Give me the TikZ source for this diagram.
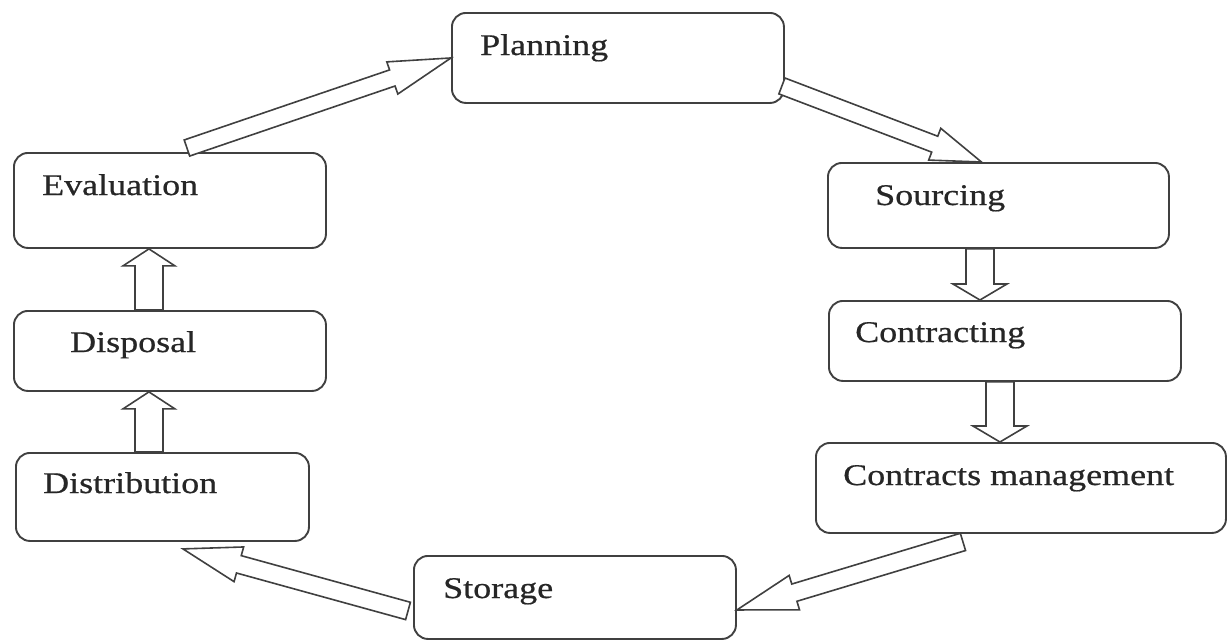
\documentclass[tikz,border=0pt]{standalone}
\usepackage{fontspec}
\setmainfont{Liberation Serif}[FakeStretch=1.2,FakeBold=0.6]
\usetikzlibrary{calc}
\definecolor{ln}{HTML}{404040}
\tikzset{
  box/.style={draw=ln, line width=1.9pt, rounded corners=14pt, anchor=north west, inner sep=0pt},
  lbl/.style={anchor=base west, inner sep=0pt, font=\fontsize{30}{36}\selectfont, text=black!85},
  blockarrow/.style={draw=ln, line width=1.6pt, fill=white, line join=miter}
}
% #1 shaft half width, #2 head half width, #3 head length, #4 from, #5 to
\newcommand\blockarr[5]{%
  \coordinate (nk) at ($(#5)!#3!(#4)$);
  \draw[blockarrow] ($(#4)!#1!90:(#5)$) -- ($(nk)!#1!90:(#5)$) -- ($(nk)!#2!90:(#5)$) -- (#5)
    -- ($(nk)!#2!-90:(#5)$) -- ($(nk)!#1!-90:(#5)$) -- ($(#4)!#1!-90:(#5)$) -- cycle;}
\begin{document}
\begin{tikzpicture}[x=1pt,y=-1pt]
\useasboundingbox (0,0) rectangle (1227,640);
% boxes
\node[box, minimum width=332pt, minimum height=90pt] (plan) at (451,12) {};
\node[box, minimum width=341pt, minimum height=85pt] (sour) at (827,162) {};
\node[box, minimum width=352pt, minimum height=80pt] (contr) at (828,300) {};
\node[box, minimum width=410pt, minimum height=90pt] (cm) at (815,442) {};
\node[box, minimum width=322pt, minimum height=83pt] (stor) at (413,555) {};
\node[box, minimum width=293pt, minimum height=88pt] (dist) at (15,452) {};
\node[box, minimum width=312pt, minimum height=80pt] (disp) at (13,310) {};
\node[box, minimum width=312pt, minimum height=95pt] (eval) at (13,152) {};
% labels
\node[lbl] (tplan) at (480,55) {Planning};
\node[lbl] (tsour) at (875,205) {Sourcing};
\node[lbl] (tcontr) at (855,342) {Contracting};
\node[lbl] (tcm) at (843,485) {Contracts management};
\node[lbl] (tstor) at (443,598) {Storage};
\node[lbl] (tdist) at (43,493) {Distribution};
\node[lbl] (tdisp) at (70,352) {Disposal};
\node[lbl] (teval) at (42,195) {Evaluation};
% connector end points
\coordinate (a1s) at ($(eval.north)+(17,-4)$);
\coordinate (a1e) at (plan.west);
\coordinate (a2s) at ($(plan.east)+(-3,28)$);
\coordinate (a2e) at ($(sour.north)+(-17,0)$);
\coordinate (a3s) at ($(sour.south)+(-18.5,0)$);
\coordinate (a3e) at (a3s |- contr.north);
\coordinate (a4s) at ($(contr.south)+(-5,0)$);
\coordinate (a4e) at (a4s |- cm.north);
\coordinate (a5s) at ($(cm.south)+(-58,8)$);
\coordinate (a5e) at ($(stor.east)+(0,12.5)$);
\coordinate (a6s) at ($(stor.west)+(-5,13.5)$);
\coordinate (a6e) at ($(dist.south)+(20.5,7)$);
\coordinate (a7s) at ($(dist.north)+(-13.5,0)$);
\coordinate (a7e) at (a7s |- disp.south);
\coordinate (a8s) at (a7s |- disp.north);
\coordinate (a8e) at (a8s |- eval.south);
% block arrows
\blockarr{8.5pt}{17pt}{62pt}{a1s}{a1e}
\blockarr{8.5pt}{17pt}{50pt}{a2s}{a2e}
\blockarr{14pt}{27pt}{16pt}{a3s}{a3e}
\blockarr{14pt}{27pt}{16pt}{a4s}{a4e}
\blockarr{9pt}{18pt}{60pt}{a5s}{a5e}
\blockarr{9pt}{18pt}{58pt}{a6s}{a6e}
\blockarr{14pt}{26pt}{17pt}{a7s}{a7e}
\blockarr{14pt}{26pt}{17pt}{a8s}{a8e}
\end{tikzpicture}
\end{document}
